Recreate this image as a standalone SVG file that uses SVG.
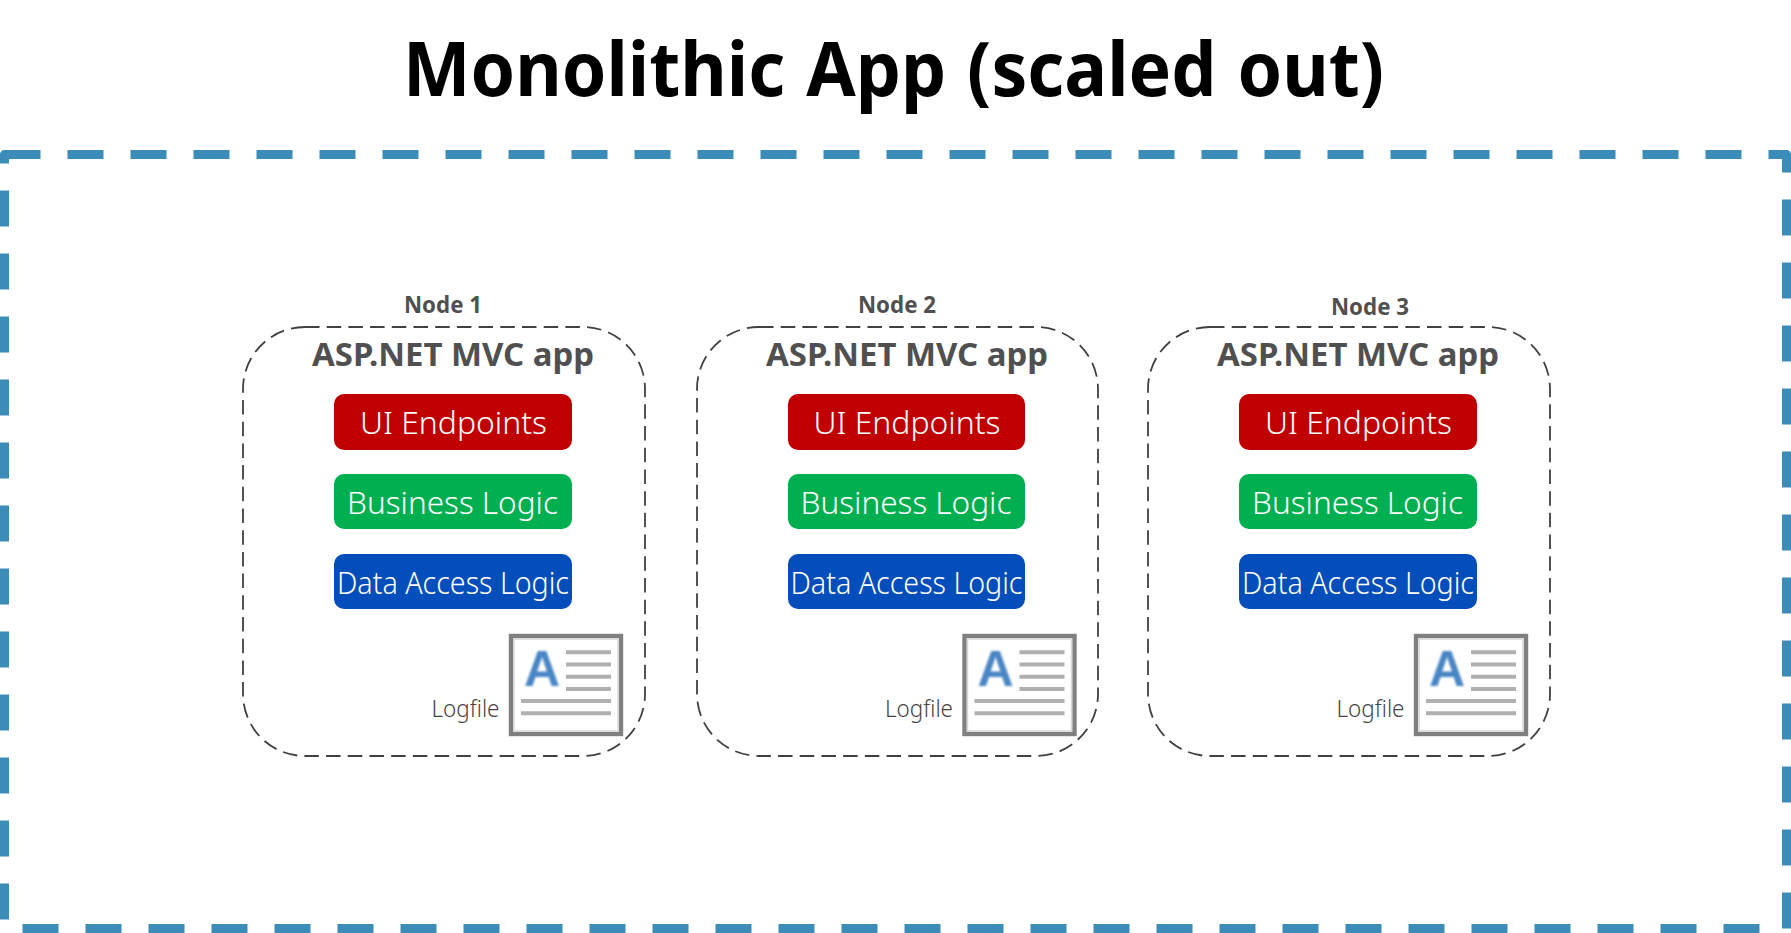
<svg xmlns="http://www.w3.org/2000/svg" width="1791" height="933" viewBox="0 0 1791 933">
<style>
text{font-family:"Noto Sans","Open Sans","Liberation Sans",sans-serif}
.title{font-size:76px;font-weight:700;fill:#000;word-spacing:2.500px}
.nl{font-size:22.5px;font-weight:700;fill:#505050}
.app{font-size:32px;font-weight:700;fill:#505050}
.svc{font-size:32px;font-weight:300;fill:#fff}
.log{font-size:23px;font-weight:300;fill:#454545}
.box{fill:none;stroke:#404040;stroke-width:1.8;stroke-dasharray:14.500 7.200}
.outer{fill:none;stroke:#3b8cb8;stroke-width:9;stroke-dasharray:36 27;stroke-linejoin:round}
.r{fill:#c00000}.g{fill:#00b050}.b{fill:#034ebb}
.frame{fill:#fff;stroke:#808080;stroke-width:4.4}
.inner{fill:none;stroke:#d8d8d8;stroke-width:1.5}
.ln{stroke:#b0b0b0;stroke-width:4;fill:none;filter:url(#softer)}
.A{font-family:"Liberation Sans",sans-serif;font-size:50px;font-weight:700;fill:#4a86c5;filter:url(#soft)}
</style>
<defs>
<filter id="soft" x="-20%" y="-20%" width="140%" height="140%"><feGaussianBlur stdDeviation="1"/></filter>
<filter id="softer" filterUnits="userSpaceOnUse" x="0" y="600" width="1791" height="150"><feGaussianBlur stdDeviation="0.6"/></filter>
</defs>
<text class="title" x="403" y="96" textLength="981" lengthAdjust="spacingAndGlyphs">Monolithic App (scaled out)</text>
<path id="scale-set" class="outer" d="M4.5 154.5H1786.5V928.5H4.5Z"/>
<g id="node1">
<text class="nl" x="404" y="313" textLength="78" lengthAdjust="spacingAndGlyphs">Node 1</text>
<rect class="box" x="243" y="327" width="402" height="429" rx="62"/>
<text class="app" x="312" y="366" textLength="282" lengthAdjust="spacingAndGlyphs">ASP.NET MVC app</text>
<rect class="r" x="334" y="394" width="238" height="56" rx="10"/>
<text class="svc" x="360" y="434" textLength="187" lengthAdjust="spacingAndGlyphs">UI Endpoints</text>
<rect class="g" x="334" y="474" width="238" height="55" rx="10"/>
<text class="svc" x="347" y="514" textLength="211" lengthAdjust="spacingAndGlyphs">Business Logic</text>
<rect class="b" x="334" y="554" width="238" height="55" rx="10"/>
<text class="svc" x="337" y="594" textLength="232" lengthAdjust="spacingAndGlyphs">Data Access Logic</text>
<text class="log" x="431.500" y="717" textLength="68" lengthAdjust="spacingAndGlyphs">Logfile</text>
<rect class="frame" x="511" y="636" width="110" height="98"/>
<rect class="inner" x="514" y="639" width="104" height="92"/>
<text class="A" x="524" y="686">A</text>
<path class="ln" d="M566 652.300H611M566 664.500H611M566 676.700H611M566 689H611M521 701H611M521 713.300H611"/>
</g>
<g id="node2">
<text class="nl" x="858" y="313" textLength="78" lengthAdjust="spacingAndGlyphs">Node 2</text>
<rect class="box" x="697" y="327" width="401" height="429" rx="62"/>
<text class="app" x="766" y="366" textLength="282" lengthAdjust="spacingAndGlyphs">ASP.NET MVC app</text>
<rect class="r" x="788" y="394" width="237" height="56" rx="10"/>
<text class="svc" x="813.500" y="434" textLength="187" lengthAdjust="spacingAndGlyphs">UI Endpoints</text>
<rect class="g" x="788" y="474" width="237" height="55" rx="10"/>
<text class="svc" x="800.500" y="514" textLength="211" lengthAdjust="spacingAndGlyphs">Business Logic</text>
<rect class="b" x="788" y="554" width="237" height="55" rx="10"/>
<text class="svc" x="790.500" y="594" textLength="232" lengthAdjust="spacingAndGlyphs">Data Access Logic</text>
<text class="log" x="885" y="717" textLength="68" lengthAdjust="spacingAndGlyphs">Logfile</text>
<rect class="frame" x="964.500" y="636" width="110" height="98"/>
<rect class="inner" x="967.500" y="639" width="104" height="92"/>
<text class="A" x="977.500" y="686">A</text>
<path class="ln" d="M1019.500 652.300H1064.500M1019.500 664.500H1064.500M1019.500 676.700H1064.500M1019.500 689H1064.500M974.500 701H1064.500M974.500 713.300H1064.500"/>
</g>
<g id="node3">
<text class="nl" x="1331" y="315" textLength="78" lengthAdjust="spacingAndGlyphs">Node 3</text>
<rect class="box" x="1148" y="327" width="402" height="429" rx="62"/>
<text class="app" x="1217" y="366" textLength="282" lengthAdjust="spacingAndGlyphs">ASP.NET MVC app</text>
<rect class="r" x="1239" y="394" width="238" height="56" rx="10"/>
<text class="svc" x="1265" y="434" textLength="187" lengthAdjust="spacingAndGlyphs">UI Endpoints</text>
<rect class="g" x="1239" y="474" width="238" height="55" rx="10"/>
<text class="svc" x="1252" y="514" textLength="211" lengthAdjust="spacingAndGlyphs">Business Logic</text>
<rect class="b" x="1239" y="554" width="238" height="55" rx="10"/>
<text class="svc" x="1242" y="594" textLength="232" lengthAdjust="spacingAndGlyphs">Data Access Logic</text>
<text class="log" x="1336.500" y="717" textLength="68" lengthAdjust="spacingAndGlyphs">Logfile</text>
<rect class="frame" x="1416" y="636" width="110" height="98"/>
<rect class="inner" x="1419" y="639" width="104" height="92"/>
<text class="A" x="1429" y="686">A</text>
<path class="ln" d="M1471 652.300H1516M1471 664.500H1516M1471 676.700H1516M1471 689H1516M1426 701H1516M1426 713.300H1516"/>
</g>
</svg>
